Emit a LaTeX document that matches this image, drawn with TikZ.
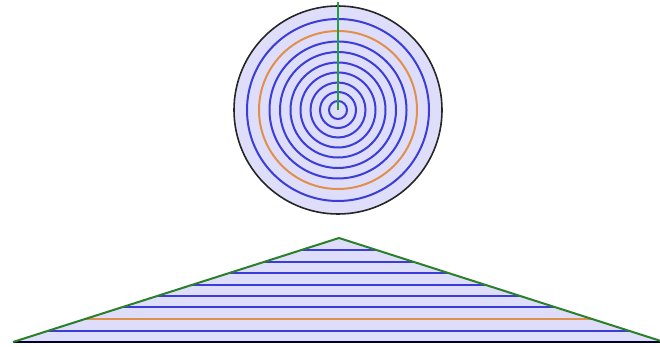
\documentclass[tikz,border=0pt]{standalone}
\definecolor{lav}{HTML}{DEDEFA}
\definecolor{ringblue}{HTML}{3C3CD8}
\definecolor{ringorange}{HTML}{E0904C}
\definecolor{sidegreen}{HTML}{2A802A}
\definecolor{radgreen}{HTML}{20A040}
\tikzset{
  ring/.style={draw=ringblue, line width=2pt},
  oring/.style={draw=ringorange, line width=2pt},
}
\begin{document}
\begin{tikzpicture}[x=1pt,y=-1pt]
\useasboundingbox (0,0) rectangle (660,347);
% circle
\coordinate (c) at (338,110);
\fill[lav] (c) circle (104);
\foreach \r in {9,18,27.5,37.5,47.5,58,68.5,91}
  \draw[ring] (c) circle (\r);
\draw[oring] (c) circle (79);
\draw[black!85, line width=1.6pt] (c) circle (104);
\coordinate (top) at (338,2);
\draw[radgreen, line width=2.6pt] (top) -- (c);
% triangle
\coordinate (A) at (339,238);
\coordinate (L) at (13,342);
\coordinate (R) at (664,342);
\fill[lav] (A) -- (L) -- (R) -- cycle;
\begin{scope}
  \clip (A) -- (L) -- (R) -- cycle;
  \foreach \y in {250,262,273,285,296,307,331}
    \draw[ring] (0,\y) -- (660,\y);
  \draw[oring] (0,319) -- (660,319);
\end{scope}
\draw[black!80!blue, line width=2pt] (L) -- (R);
\draw[sidegreen, line width=2pt, line join=round] (L) -- (A) -- (R);
\end{tikzpicture}
\end{document}
